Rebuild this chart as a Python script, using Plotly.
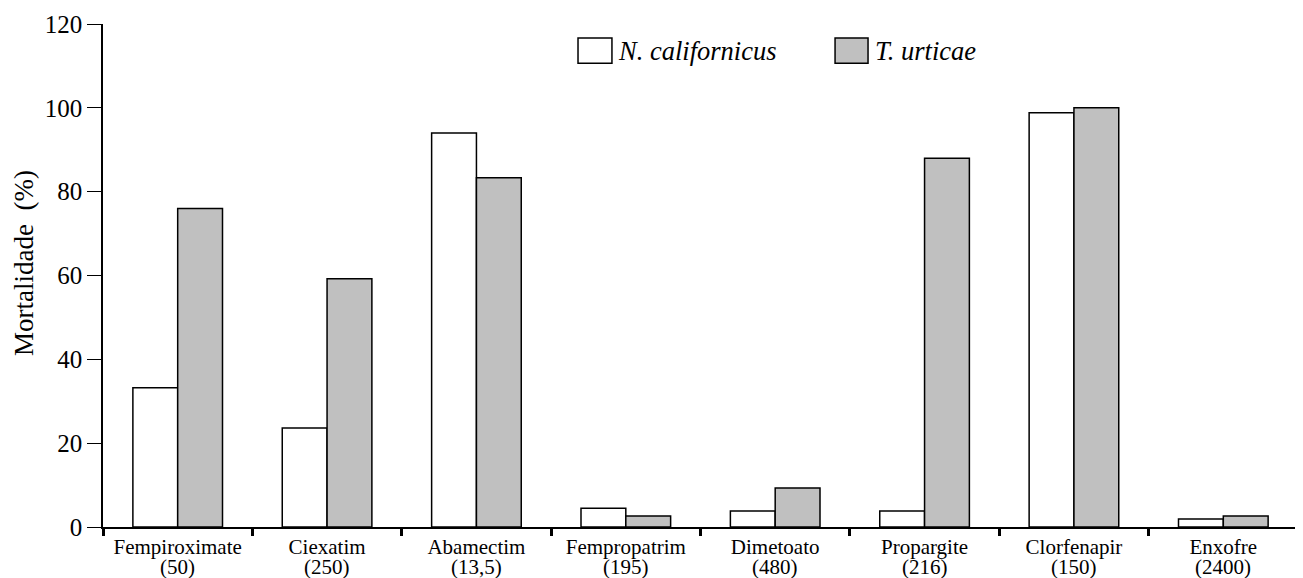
import plotly.graph_objects as go

categories = ["Fempiroximate", "Ciexatim", "Abamectim", "Fempropatrim",
              "Dimetoato", "Propargite", "Clorfenapir", "Enxofre"]
doses = ["(50)", "(250)", "(13,5)", "(195)", "(480)", "(216)", "(150)", "(2400)"]
n_californicus = [33.2, 23.6, 94.0, 4.5, 3.8, 3.8, 98.8, 1.9]
t_urticae = [76.0, 59.2, 83.3, 2.6, 9.3, 88.0, 100.0, 2.6]
y_ticks = [0, 20, 40, 60, 80, 100, 120]

FONT = "Liberation Serif"
GRAY = "#c0c0c0"

fig = go.Figure()
fig.add_trace(go.Bar(x=categories, y=n_californicus, name="N. californicus",
                     marker=dict(color="white", line=dict(color="black", width=1.5))))
fig.add_trace(go.Bar(x=categories, y=t_urticae, name="T. urticae",
                     marker=dict(color=GRAY, line=dict(color="black", width=1.5))))

# the page body adds an 8px offset; margins compensate for it
fig.update_layout(
    width=1303, height=578,
    margin=dict(l=95, r=13, t=16, b=59),
    paper_bgcolor="white", plot_bgcolor="white",
    barmode="group", bargap=0.4, bargroupgap=0,
    showlegend=False,
    font=dict(family=FONT, color="black"),
)
fig.update_xaxes(
    automargin=False,
    showline=True, linecolor="black", linewidth=1.5,
    ticks="outside", tickson="boundaries", ticklen=7, tickwidth=3, tickcolor="black",
    tickfont=dict(size=21, family=FONT),
    showgrid=False, zeroline=False, range=[-0.5, 7.5],
)
fig.update_yaxes(
    automargin=False,
    range=[0, 120], tickvals=y_ticks,
    showline=True, linecolor="black", linewidth=1.5,
    ticks="outside", ticklen=14, tickwidth=1.2, tickcolor="black",
    tickfont=dict(size=25, family=FONT),
    showgrid=False, zeroline=False,
)

# dose line under each category name
for cat, dose in zip(categories, doses):
    fig.add_annotation(text=dose, xref="x", yref="paper", x=cat, y=-0.079,
                       xanchor="center", yanchor="middle", showarrow=False,
                       font=dict(size=21, family=FONT))

fig.add_annotation(text="Mortalidade  (%)", textangle=-90, xref="paper", yref="paper",
                   x=-0.066, y=0.525, xanchor="center", yanchor="middle", showarrow=False,
                   font=dict(size=27, family=FONT))

# legend drawn manually (boxes + italic labels)
legend = [("N. californicus", "white", 0.3975, 0.4259, 0.429),
          ("T. urticae", GRAY, 0.6126, 0.6402, 0.6444)]
for label, color, x0, x1, xt in legend:
    fig.add_shape(type="rect", xref="paper", yref="paper", x0=x0, x1=x1, y0=0.922, y1=0.972,
                  fillcolor=color, line=dict(color="black", width=1.5))
    fig.add_annotation(text="<i>%s</i>" % label, xref="paper", yref="paper", x=xt, y=0.947,
                       xanchor="left", yanchor="middle", showarrow=False,
                       font=dict(size=26.5, family=FONT))

fig.write_html("out.html")
